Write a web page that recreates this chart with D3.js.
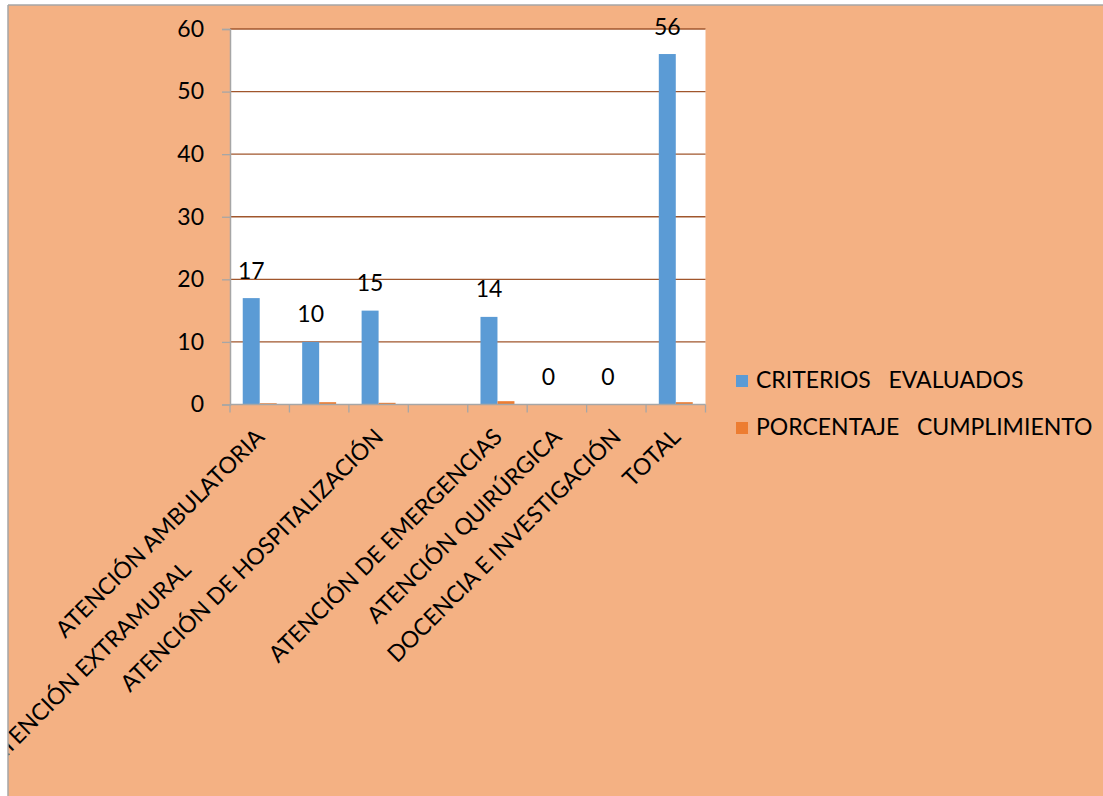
<!DOCTYPE html>
<html>
<head>
<meta charset="utf-8">
<script src="https://cdn.jsdelivr.net/npm/d3@7"></script>
<style>
  html, body { margin: 0; padding: 0; background: #ffffff; }
  svg { display: block; }
  text { font-family: Lato, "Open Sans", sans-serif; fill: #000; }
</style>
</head>
<body>
<svg id="chart" width="1103" height="796"></svg>
<script>
// ---- data ----
const categories = [
  "ATENCIÓN AMBULATORIA",
  "ATENCIÓN EXTRAMURAL                                ",
  "ATENCIÓN DE HOSPITALIZACIÓN",
  " ",
  "ATENCIÓN DE EMERGENCIAS",
  "ATENCIÓN QUIRÚRGICA",
  "DOCENCIA E INVESTIGACIÓN",
  "TOTAL"
];
const seriesNames = ["CRITERIOS   EVALUADOS", "PORCENTAJE   CUMPLIMIENTO"];
const criteriosEvaluados = [17, 10, 15, null, 14, 0, 0, 56];
const porcentajeCumplimiento = [0.2, 0.37, 0.27, null, 0.53, 0, 0, 0.37];
const yTicks = [0, 10, 20, 30, 40, 50, 60];
const colors = ["#5B9BD5", "#ED7D31"];

// ---- layout ----
const W = 1103, H = 796;
const frame = {x: 8, y: 5};
const plot = {left: 230, right: 705.5, top: 29, bottom: 404.5};
const FS = "23px";
const svg = d3.select("#chart");

svg.append("defs").append("clipPath").attr("id", "frameClip")
  .append("rect").attr("x", frame.x).attr("y", frame.y)
  .attr("width", W - frame.x).attr("height", H - frame.y);

const root = svg.append("g").attr("clip-path", "url(#frameClip)");

// chart background
root.append("rect").attr("x", frame.x).attr("y", frame.y)
  .attr("width", W - frame.x).attr("height", H - frame.y)
  .attr("fill", "#F4B183");
// frame border (left & top)
svg.append("line").attr("x1", frame.x).attr("x2", frame.x).attr("y1", frame.y).attr("y2", H)
  .attr("stroke", "#A6A6A6").attr("stroke-width", 1.5);
svg.append("line").attr("x1", frame.x).attr("x2", W).attr("y1", frame.y).attr("y2", frame.y)
  .attr("stroke", "#A6A6A6").attr("stroke-width", 1.5);

// plot area
root.append("rect").attr("x", plot.left).attr("y", plot.top)
  .attr("width", plot.right - plot.left).attr("height", plot.bottom - plot.top)
  .attr("fill", "#ffffff");

const y = d3.scaleLinear().domain([0, 60]).range([plot.bottom, plot.top]);
const x0 = d3.scaleBand().domain(categories).range([plot.left, plot.right]).padding(0);
const x1 = d3.scaleBand().domain(seriesNames).range([0, x0.bandwidth()])
  .paddingInner(0).paddingOuter(0.75);

// gridlines
root.append("g").selectAll("line").data(yTicks.filter(t => t > 0)).join("line")
  .attr("x1", plot.left).attr("x2", plot.right)
  .attr("y1", d => y(d)).attr("y2", d => y(d))
  .attr("stroke", "#A0562C").attr("stroke-width", 1.3);

// bars
const rows = categories.map((c, i) => ({cat: c, vals: [criteriosEvaluados[i], porcentajeCumplimiento[i]]}));
const groups = root.append("g").selectAll("g").data(rows).join("g")
  .attr("transform", d => `translate(${x0(d.cat)},0)`);
groups.selectAll("rect").data(d => d.vals.map((v, j) => ({s: seriesNames[j], v, j})).filter(e => e.v !== null && e.v > 0))
  .join("rect")
  .attr("x", e => x1(e.s)).attr("width", x1.bandwidth())
  .attr("y", e => y(e.v)).attr("height", e => y(0) - y(e.v))
  .attr("fill", e => colors[e.j]);

// data labels (series 1)
groups.filter(d => d.vals[0] !== null).append("text")
  .attr("x", x1(seriesNames[0]) + x1.bandwidth() / 2)
  .attr("y", d => y(d.vals[0]) - 19.5)
  .attr("text-anchor", "middle")
  .style("font-size", FS)
  .text(d => d.vals[0]);

// y axis
const yAxis = root.append("g").attr("transform", `translate(${plot.left},0)`)
  .call(d3.axisLeft(y).tickValues(yTicks).tickSize(8).tickPadding(18));
yAxis.select(".domain").attr("stroke", "#A6A6A6").attr("stroke-width", 1.5);
yAxis.selectAll(".tick line").attr("stroke", "#A6A6A6").attr("stroke-width", 1.3);
yAxis.selectAll(".tick text").style("font-size", FS).style("font-family", "Lato, 'Open Sans', sans-serif").attr("fill", "#000");

// x axis line + ticks at category boundaries
const boundaries = categories.map(c => x0(c)).concat([plot.right]);
root.append("line").attr("x1", plot.left).attr("x2", plot.right)
  .attr("y1", y(0)).attr("y2", y(0)).attr("stroke", "#A6A6A6").attr("stroke-width", 1.5);
root.append("g").selectAll("line").data(boundaries).join("line")
  .attr("x1", d => d).attr("x2", d => d)
  .attr("y1", y(0)).attr("y2", y(0) + 8)
  .attr("stroke", "#A6A6A6").attr("stroke-width", 1.3);

// category labels
root.append("g").selectAll("text").data(categories).join("text")
  .attr("transform", c => `translate(${x0(c) + x0.bandwidth() / 2 + 6},${y(0) + 34}) rotate(-45)`)
  .attr("text-anchor", "end")
  .attr("xml:space", "preserve")
  .style("white-space", "pre")
  .style("font-size", FS)
  .text(c => c);

// legend
const legend = root.append("g").selectAll("g").data(seriesNames).join("g")
  .attr("transform", (d, i) => `translate(736,${375 + i * 47})`);
legend.append("rect").attr("width", 12).attr("height", 12).attr("fill", (d, i) => colors[i]);
legend.append("text").attr("x", 20).attr("y", 13)
  .style("white-space", "pre").attr("xml:space", "preserve")
  .style("font-size", FS).text(d => d);
</script>
</body>
</html>
